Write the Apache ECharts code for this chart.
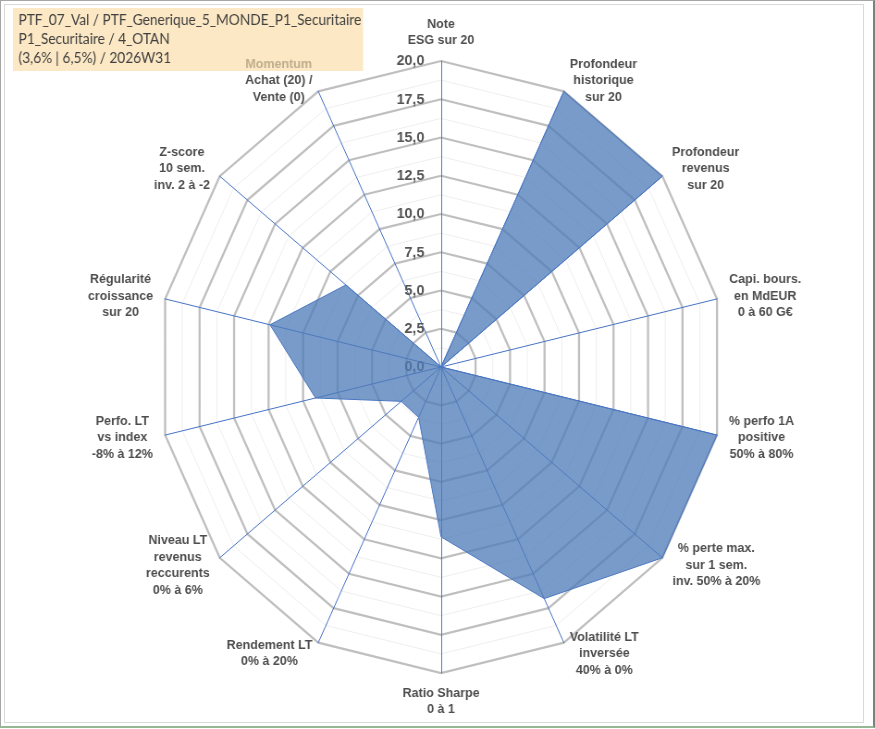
<!DOCTYPE html>
<html>
<head>
<meta charset="utf-8">
<script src="https://cdn.jsdelivr.net/npm/echarts@6/dist/echarts.min.js"></script>
<style>
  html, body { margin: 0; padding: 0; background: #fff; overflow: hidden; }
  #outer { position: absolute; left: 0; top: 0; width: 872px; height: 725px;
           border-left: 1px solid #a6a6a6; border-top: 1px solid #a6a6a6;
           border-right: 2px solid #7f7f7f; border-bottom: 2px solid #93b893; }
  #inner { position: absolute; left: 4px; top: 4px; width: 858px; height: 717px;
           border: 1px solid #d9d9d9; }
  /* the reference plot is a little narrower than tall */
  #chart { position: absolute; left: 0; top: 0; width: 946px; height: 729px;
           transform: scaleX(0.925); transform-origin: 0 0; }
</style>
</head>
<body>
<div id="outer"></div>
<div id="inner"></div>
<div id="chart"></div>
<script>
// axes, clockwise from the top
const indicatorNames = [
  'Note\nESG sur 20',
  'Profondeur\nhistorique\nsur 20',
  'Profondeur\nrevenus\nsur 20',
  'Capi. bours.\nen MdEUR\n0 à 60 G€',
  '% perfo 1A\npositive\n50% à 80%',
  '% perte max.\nsur 1 sem.\ninv. 50% à 20%',
  'Volatilité LT\ninversée\n40% à 0%',
  'Ratio Sharpe\n0 à 1',
  'Rendement LT\n0% à 20%',
  'Niveau LT\nrevenus\nreccurents\n0% à 6%',
  'Perfo. LT\nvs index\n-8% à 12%',
  'Régularité\ncroissance\nsur 20',
  'Z-score\n10 sem.\ninv. 2 à -2',
  'Momentum\nAchat (20) /\nVente (0)'
];
const scoreValues = [0, 20, 20, 0, 20, 20, 16.8, 11.1, 3.65, 3.6, 9.1, 12.4, 8.6, 0];
const axisMax = 20;
const tickStep = 2.5;
const titleLines = [
  'PTF_07_Val / PTF_Generique_5_MONDE_P1_Securitaire',
  'P1_Securitaire / 4_OTAN',
  '(3,6% | 6,5%) / 2026W31'
];

const CX = 476.8, CY = 367, R = 306;
const nameFont = 'Liberation Sans, Arial, sans-serif';
const nameSize = 13.5;

// echarts lays radar axes out counter-clockwise, so reverse all but the first
const order = [0].concat(indicatorNames.map((_, i) => i).slice(1).reverse());
const indicators = order.map(i => ({ name: indicatorNames[i], max: axisMax, min: 0 }));
const seriesValues = order.map(i => scoreValues[i]);

// centre every line of a label inside its own block, like the original
const ctx = document.createElement('canvas').getContext('2d');
ctx.font = 'bold ' + nameSize + 'px ' + nameFont;
const rich = {};
indicatorNames.forEach((n, i) => {
  const w = Math.ceil(Math.max(...n.split('\n').map(s => ctx.measureText(s).width))) + 2;
  const base = { width: w, align: 'center', fontSize: nameSize, fontWeight: 'bold',
                 fontFamily: nameFont, color: '#4d4d4d', lineHeight: 16.5 };
  rich['l' + i] = base;
  rich['m' + i] = Object.assign({}, base, { color: '#bfae8e' });
});

function nameFormatter(name) {
  const i = indicatorNames.indexOf(name);
  return name.split('\n').map((s, k) =>
    '{' + ((i === 13 && k === 0) ? 'm' : 'l') + i + '|' + s + '}').join('\n');
}

const radarBase = {
  center: [CX, CY],
  radius: R,
  startAngle: 90,
  shape: 'polygon',
  indicator: indicators,
  splitArea: { show: false },
  axisTick: { show: false },
  axisLabel: { show: false }
};

const chart = echarts.init(document.getElementById('chart'));

chart.setOption({
  animation: false,
  backgroundColor: 'transparent',
  title: {
    z: 0,
    text: titleLines.join('\n'),
    left: 14,
    top: 8,
    padding: [3, 2, 3, 6],
    backgroundColor: '#fce8c4',
    textStyle: { fontFamily: 'Lato, "Open Sans", sans-serif', fontSize: 14.8,
                 fontWeight: 'normal', color: '#404040', lineHeight: 19 }
  },
  radar: [
    Object.assign({}, radarBase, {
      z: 1,
      splitNumber: 16,
      axisName: { show: false },
      axisLine: { show: false },
      splitLine: { lineStyle: { color: '#eeeeee', width: 1 } }
    }),
    Object.assign({}, radarBase, {
      z: 2,
      splitNumber: 8,
      axisName: { show: false },
      axisLine: { show: false },
      splitLine: { lineStyle: { color: '#bfbfbf', width: 2.3 } }
    }),
    Object.assign({}, radarBase, {
      z: 3,
      splitNumber: 8,
      nameGap: 12,
      axisName: { formatter: nameFormatter, rich: rich },
      axisLine: { lineStyle: { color: '#4472c4', width: 1 } },
      splitLine: { show: false }
    })
  ],
  grid: { left: CX, top: CY - R, width: 1, height: R },
  xAxis: { type: 'value', show: false },
  yAxis: {
    type: 'value',
    z: 3,
    min: 0,
    max: axisMax,
    interval: tickStep,
    axisLine: { show: false },
    axisTick: { show: false },
    splitLine: { show: false },
    axisLabel: {
      margin: 18,
      fontSize: 15.5,
      fontWeight: 'bold',
      fontFamily: nameFont,
      color: '#555555',
      formatter: v => v.toFixed(1).replace('.', ',')
    }
  },
  series: [{
    type: 'radar',
    radarIndex: 2,
    z: 4,
    symbol: 'none',
    data: [{ value: seriesValues, name: 'PTF_07_Val' }],
    lineStyle: { color: '#4472c4', width: 1 },
    areaStyle: { color: 'rgba(79,124,184,0.76)', opacity: 1 }
  }]
});
</script>
</body>
</html>
